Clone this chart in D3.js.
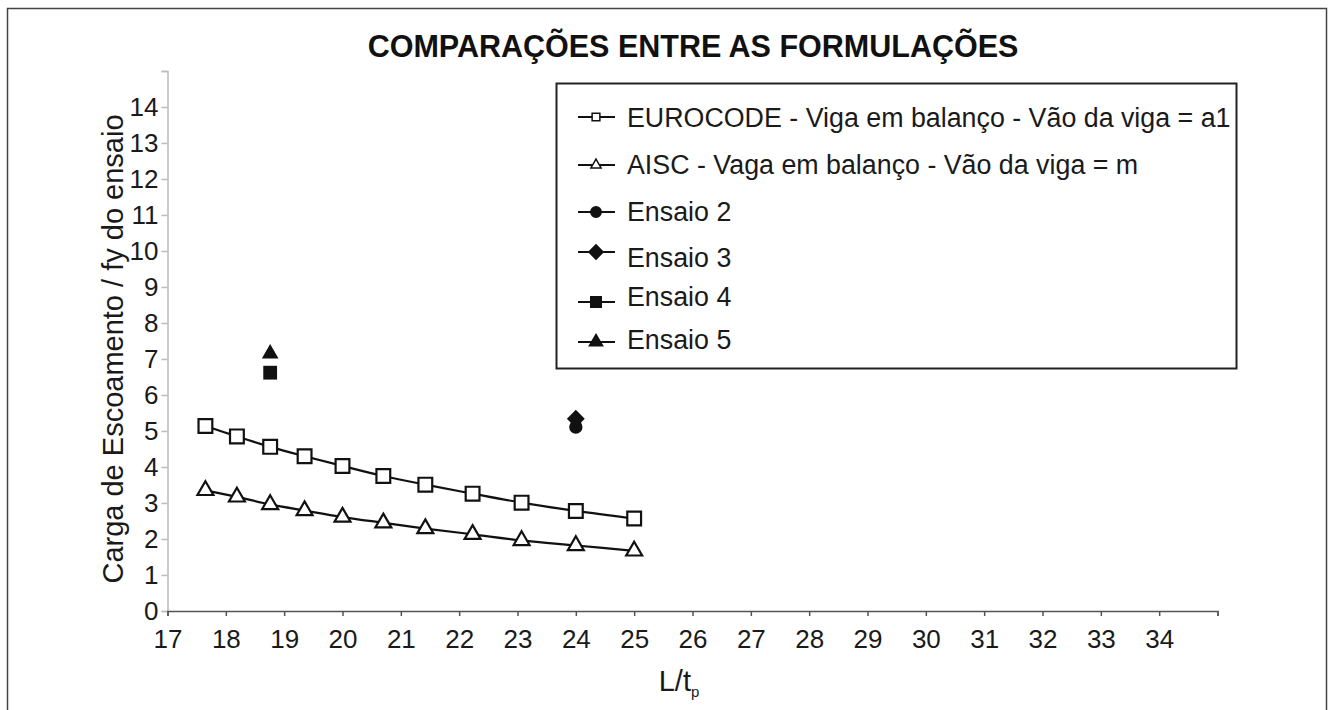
<!DOCTYPE html>
<html>
<head>
<meta charset="utf-8">
<script src="https://cdn.jsdelivr.net/npm/d3@7"></script>
<style>
  body { margin: 0; background: #fff; }
  svg { display: block; font-family: "Liberation Sans", Arial, sans-serif; }
</style>
</head>
<body>
<div id="chart"></div>
<script>
// L/tp values shared by both formulations
const ltp = [17.65, 18.19, 18.76, 19.35, 20.0, 20.7, 21.42, 22.23, 23.07, 24.0, 25.0];
const eurocode = [5.14, 4.85, 4.56, 4.30, 4.03, 3.75, 3.51, 3.26, 3.01, 2.78, 2.57];
const aisc = [3.35, 3.17, 2.96, 2.79, 2.61, 2.45, 2.29, 2.13, 1.96, 1.82, 1.67];

// test results (single points)
const ensaioNames = ["Ensaio 2", "Ensaio 3", "Ensaio 4", "Ensaio 5"];
const ensaioX = [24.0, 24.0, 18.76, 18.76];
const ensaioY = [5.11, 5.34, 6.62, 7.15];

const seriesNames = [
  "EUROCODE - Viga em balanço - Vão da viga = a1",
  "AISC - Vaga em balanço - Vão da viga = m"
];
const xTicks = d3.range(17, 36);
const yTicks = d3.range(0, 16);

const width = 1333, height = 710;

const svg = d3.select("#chart")
  .append("svg")
  .attr("width", width)
  .attr("height", height);

// outer frame (cut at the bottom)
svg.append("path")
  .attr("d", "M7.5,710 V8.5 H1326.5 V710")
  .attr("fill", "none")
  .attr("stroke", "#444")
  .attr("stroke-width", 1.5);

const x = d3.scaleLinear().domain([17, 35]).range([167.5, 1217.5]);
const y = d3.scaleLinear().domain([0, 15]).range([611, 71]);

// title
svg.append("text")
  .attr("x", 693)
  .attr("y", 57)
  .attr("text-anchor", "middle")
  .style("font-weight", "bold")
  .style("font-size", "30.5px")
  .attr("fill", "#111")
  .text("COMPARAÇÕES ENTRE AS FORMULAÇÕES");

// y axis (light grey)
const yAxis = svg.append("g")
  .attr("transform", `translate(${x(17)},0)`)
  .call(d3.axisLeft(y).tickValues(yTicks).tickSize(6).tickPadding(3)
    .tickFormat(d => d === 15 ? "" : d));
yAxis.select(".domain").attr("stroke", "#bbb").attr("stroke-width", 1.5);
yAxis.selectAll(".tick line").attr("stroke", "#bbb").attr("stroke-width", 1.5);
yAxis.selectAll("text").style("font-size", "26px").attr("fill", "#1a1a1a");

// x axis (dark)
const xAxis = svg.append("g")
  .attr("transform", `translate(0,${y(0)})`)
  .call(d3.axisBottom(x).tickValues(xTicks).tickSize(5).tickPadding(14)
    .tickFormat(d => d === 35 ? "" : d));
xAxis.select(".domain").attr("stroke", "#555").attr("stroke-width", 1.5);
xAxis.selectAll(".tick line").attr("stroke", "#555").attr("stroke-width", 1.5);
xAxis.selectAll("text").style("font-size", "26px").attr("fill", "#1a1a1a");

// axis titles
svg.append("text")
  .attr("transform", `translate(123,${(y(0) + y(15)) / 2 + 8}) rotate(-90)`)
  .attr("text-anchor", "middle")
  .style("font-size", "29px")
  .attr("fill", "#1a1a1a")
  .text("Carga de Escoamento / fy do ensaio");

const xt = svg.append("text")
  .attr("x", 679)
  .attr("y", 691)
  .attr("text-anchor", "middle")
  .style("font-size", "29px")
  .attr("fill", "#1a1a1a");
xt.append("tspan").text("L/t");
xt.append("tspan").attr("dy", 6).style("font-size", "15px").text("p");

// smoothed series lines
const line = d3.line()
  .x((d, i) => x(ltp[i]))
  .y(d => y(d))
  .curve(d3.curveCatmullRom.alpha(0.5));

const series = [
  { name: seriesNames[0], values: eurocode, symbol: d3.symbolSquare, size: 190 },
  { name: seriesNames[1], values: aisc, symbol: d3.symbolTriangle, size: 110 }
];

series.forEach(s => {
  svg.append("path")
    .datum(s.values)
    .attr("d", line)
    .attr("fill", "none")
    .attr("stroke", "#111")
    .attr("stroke-width", 2.2);

  svg.append("g")
    .selectAll("path")
    .data(s.values)
    .join("path")
    .attr("transform", (d, i) => `translate(${x(ltp[i])},${y(d)})`)
    .attr("d", d3.symbol(s.symbol, s.size))
    .attr("fill", "#fff")
    .attr("stroke", "#111")
    .attr("stroke-width", 2.2);
});

// filled markers for the tests
const ensaioSymbols = [
  { type: d3.symbolCircle, size: 140, rot: 0 },
  { type: d3.symbolSquare, size: 160, rot: 45 },
  { type: d3.symbolSquare, size: 190, rot: 0 },
  { type: d3.symbolTriangle, size: 120, rot: 0 }
];

svg.append("g")
  .selectAll("path")
  .data(ensaioNames)
  .join("path")
  .attr("transform", (d, i) => `translate(${x(ensaioX[i])},${y(ensaioY[i])}) rotate(${ensaioSymbols[i].rot})`)
  .attr("d", (d, i) => d3.symbol(ensaioSymbols[i].type, ensaioSymbols[i].size)())
  .attr("fill", "#111");

// legend
const legend = svg.append("g");
legend.append("rect")
  .attr("x", 556.5).attr("y", 83.5)
  .attr("width", 680).attr("height", 285)
  .attr("fill", "#fff")
  .attr("stroke", "#222")
  .attr("stroke-width", 2);

const legendItems = [
  { label: seriesNames[0], type: d3.symbolSquare, size: 60, rot: 0, fill: "#fff", my: 117, ty: 118 },
  { label: seriesNames[1], type: d3.symbolTriangle, size: 45, rot: 0, fill: "#fff", my: 165, ty: 165 },
  { label: ensaioNames[0], type: d3.symbolCircle, size: 85, rot: 0, fill: "#111", my: 212, ty: 212 },
  { label: ensaioNames[1], type: d3.symbolSquare, size: 100, rot: 45, fill: "#111", my: 252, ty: 258 },
  { label: ensaioNames[2], type: d3.symbolSquare, size: 110, rot: 0, fill: "#111", my: 302, ty: 297 },
  { label: ensaioNames[3], type: d3.symbolTriangle, size: 75, rot: 0, fill: "#111", my: 342, ty: 340 }
];

const li = legend.selectAll("g.item")
  .data(legendItems)
  .join("g")
  .attr("class", "item");

li.append("line")
  .attr("x1", 578).attr("x2", 615)
  .attr("y1", d => d.my).attr("y2", d => d.my)
  .attr("stroke", "#111").attr("stroke-width", 2);

li.append("path")
  .attr("transform", d => `translate(596,${d.my}) rotate(${d.rot})`)
  .attr("d", d => d3.symbol(d.type, d.size)())
  .attr("fill", d => d.fill)
  .attr("stroke", "#111")
  .attr("stroke-width", 1.5);

li.append("text")
  .attr("x", 627)
  .attr("y", d => d.ty)
  .attr("dy", "0.35em")
  .style("font-size", "26.8px")
  .attr("fill", "#1a1a1a")
  .text(d => d.label);
</script>
</body>
</html>
